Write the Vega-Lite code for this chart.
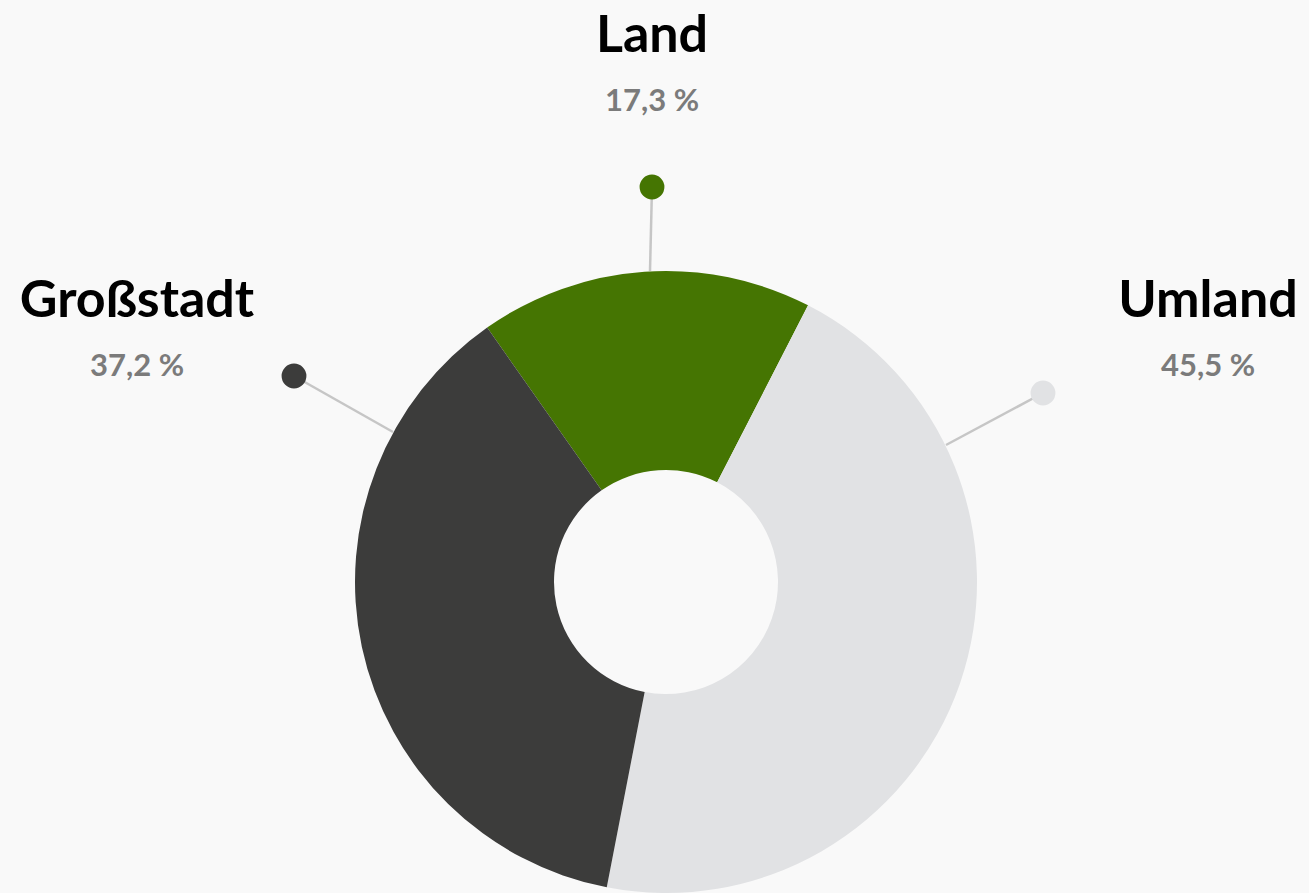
{
  "$schema": "https://vega.github.io/schema/vega-lite/v6.json",
  "width": 1309,
  "height": 893,
  "autosize": {"type": "none"},
  "padding": 0,
  "background": "#f9f9f9",
  "config": {"view": {"stroke": null}, "font": "Lato"},
  "data": {
    "values": [
      {"name": "Land", "rank": 1, "value": 17.3, "pct": "17,3 %", "labelX": 652, "labelY": 52, "dotX": 652, "dotY": 187, "edgeX": 650, "edgeY": 271},
      {"name": "Umland", "rank": 2, "value": 45.5, "pct": "45,5 %", "labelX": 1208, "labelY": 317, "dotX": 1043, "dotY": 393, "edgeX": 946, "edgeY": 445},
      {"name": "Großstadt", "rank": 3, "value": 37.2, "pct": "37,2 %", "labelX": 137, "labelY": 317, "dotX": 294, "dotY": 376, "edgeX": 393, "edgeY": 432}
    ]
  },
  "encoding": {
    "color": {
      "field": "name",
      "type": "nominal",
      "scale": {"domain": ["Land", "Umland", "Großstadt"], "range": ["#457502", "#e1e2e4", "#3c3c3b"]},
      "legend": null
    }
  },
  "layer": [
    {
      "mark": {"type": "rule", "stroke": "#c6c6c6", "strokeWidth": 2.5},
      "encoding": {
        "x": {"field": "edgeX", "type": "quantitative", "scale": {"domain": [0, 1309], "nice": false, "zero": false}, "axis": null},
        "y": {"field": "edgeY", "type": "quantitative", "scale": {"domain": [0, 893], "nice": false, "zero": false, "reverse": true}, "axis": null},
        "x2": {"field": "dotX"},
        "y2": {"field": "dotY"},
        "color": {"value": "#c6c6c6"}
      }
    },
    {
      "mark": {"type": "arc", "outerRadius": 311, "innerRadius": 112},
      "encoding": {
        "x": {"datum": 666, "type": "quantitative"},
        "y": {"datum": 582, "type": "quantitative"},
        "theta": {"field": "value", "type": "quantitative", "stack": true, "scale": {"range": [-0.6126, 5.6706]}},
        "order": {"field": "rank", "type": "quantitative"}
      }
    },
    {
      "mark": {"type": "point", "filled": true, "opacity": 1, "size": 616},
      "encoding": {
        "x": {"field": "dotX", "type": "quantitative"},
        "y": {"field": "dotY", "type": "quantitative"}
      }
    },
    {
      "mark": {"type": "text", "font": "Lato", "fontWeight": "bold", "fontSize": 52, "align": "center", "baseline": "alphabetic", "color": "#000000"},
      "encoding": {
        "x": {"field": "labelX", "type": "quantitative"},
        "y": {"field": "labelY", "type": "quantitative"},
        "text": {"field": "name"},
        "color": {"value": "#000000"}
      }
    },
    {
      "mark": {"type": "text", "font": "Lato", "fontWeight": "bold", "fontSize": 31, "align": "center", "baseline": "alphabetic", "dy": 59},
      "encoding": {
        "x": {"field": "labelX", "type": "quantitative"},
        "y": {"field": "labelY", "type": "quantitative"},
        "text": {"field": "pct"},
        "color": {"value": "#7b7b7b"}
      }
    }
  ]
}
